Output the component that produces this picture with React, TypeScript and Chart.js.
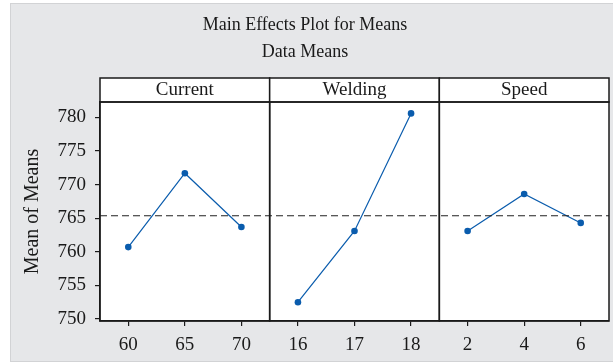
import React, { useEffect, useRef } from "react";
import { Chart, registerables } from "chart.js";

Chart.register(...registerables);

const titleLines = ["Main Effects Plot for Means", "Data Means"];
const yAxisLabel = "Mean of Means";
const factorNames = ["Current", "Welding", "Speed"];
const currentLevels = ["60", "65", "70"];
const weldingLevels = ["16", "17", "18"];
const speedLevels = ["2", "4", "6"];
const currentMeans = [760.7, 771.7, 763.7];
const weldingMeans = [752.5, 763.1, 780.6];
const speedMeans = [763.1, 768.6, 764.3];
const yTicks = [750, 755, 760, 765, 770, 775, 780];

const FONT = "'Liberation Serif', 'DejaVu Serif', serif";
const BLUE = "#0a5cad";

export default function App() {
  const ref = useRef<HTMLCanvasElement | null>(null);

  useEffect(() => {
    if (!ref.current) return;
    const labels = [...currentLevels, ...weldingLevels, ...speedLevels];
    const groups = [currentMeans, weldingMeans, speedMeans];
    const all = groups.flat();
    const grandMean = all.reduce((a, b) => a + b, 0) / all.length;
    const datasets = groups.map((g, gi) => {
      const data: (number | null)[] = labels.map(() => null);
      g.forEach((v, i) => (data[gi * 3 + i] = v));
      return {
        label: factorNames[gi],
        data,
        borderColor: BLUE,
        backgroundColor: BLUE,
        borderWidth: 1.2,
        pointRadius: 3.3,
        pointBorderWidth: 0,
        pointBackgroundColor: BLUE,
        spanGaps: false,
        tension: 0,
      };
    });

    const decor = {
      id: "decor",
      beforeDraw(chart: any) {
        const { ctx, chartArea } = chart;
        ctx.save();
        ctx.fillStyle = "#ffffff";
        ctx.fillRect(0, 0, chart.width, chart.height);
        ctx.fillStyle = "#e6e7e9";
        ctx.fillRect(10, 3, chart.width - 10, 359);
        ctx.strokeStyle = "#d2d3d5";
        ctx.lineWidth = 1;
        ctx.strokeRect(10.5, 3.5, chart.width, 358);
        ctx.fillStyle = "#ffffff";
        ctx.fillRect(chartArea.left, chartArea.top, chartArea.right - chartArea.left, chartArea.bottom - chartArea.top);
        ctx.restore();
      },
      afterDatasetsDraw(chart: any) {
        const { ctx, chartArea, scales } = chart;
        const x = scales.x;
        const y = scales.y;
        ctx.save();
        const ym = y.getPixelForValue(grandMean);
        ctx.strokeStyle = "#222222";
        ctx.lineWidth = 1.2;
        ctx.setLineDash([7, 4]);
        ctx.beginPath();
        ctx.moveTo(chartArea.left, ym);
        ctx.lineTo(chartArea.right, ym);
        ctx.stroke();
        ctx.setLineDash([]);
        const bounds = [chartArea.left];
        for (let g = 1; g < factorNames.length; g++) {
          bounds.push((x.getPixelForValue(g * 3 - 1) + x.getPixelForValue(g * 3)) / 2);
        }
        bounds.push(chartArea.right);
        const hTop = chartArea.top - 24;
        ctx.strokeStyle = "#1a1a1a";
        ctx.lineWidth = 1.5;
        for (let g = 0; g < factorNames.length; g++) {
          const l = bounds[g];
          const r = bounds[g + 1];
          ctx.fillStyle = "#ffffff";
          ctx.fillRect(l, hTop, r - l, 24);
          ctx.strokeRect(l, hTop, r - l, 24);
          ctx.strokeRect(l, chartArea.top, r - l, chartArea.bottom - chartArea.top);
          ctx.fillStyle = "#1a1a1a";
          ctx.font = `19px ${FONT}`;
          ctx.textAlign = "center";
          ctx.textBaseline = "middle";
          ctx.fillText(factorNames[g], (l + r) / 2, hTop + 12);
        }
        ctx.restore();
      },
    };

    const chart = new Chart(ref.current, {
      type: "line",
      data: { labels, datasets },
      plugins: [decor],
      options: {
        animation: false,
        responsive: false,
        maintainAspectRatio: false,
        layout: { padding: { left: 0, right: 3, top: 0, bottom: 0 } },
        plugins: {
          legend: { display: false },
          tooltip: { enabled: false },
          title: {
            display: true,
            text: titleLines,
            color: "#1a1a1a",
            font: { family: FONT, size: 18, weight: "normal", lineHeight: 1.5 },
            padding: { top: 12, bottom: 36 },
          },
        },
        scales: {
          x: {
            type: "category",
            offset: true,
            grid: { display: true, drawOnChartArea: false, offset: false, tickLength: 5, color: "#1a1a1a", lineWidth: 1.2 },
            border: { display: true, color: "#1a1a1a", width: 1.5 },
            ticks: { color: "#1a1a1a", font: { family: FONT, size: 19 }, padding: 8, maxRotation: 0, autoSkip: false },
            afterFit: (s: any) => { s.height = 43; },
          },
          y: {
            min: 749.7,
            max: 782.3,
            grid: { display: true, drawOnChartArea: false, tickLength: 5, color: "#1a1a1a", lineWidth: 1.2 },
            border: { display: true, color: "#1a1a1a", width: 1.5 },
            ticks: { color: "#1a1a1a", font: { family: FONT, size: 19 }, padding: 9 },
            afterBuildTicks: (s: any) => { s.ticks = yTicks.map((v) => ({ value: v })); },
            afterFit: (s: any) => { s.width = 100; },
            title: {
              display: true,
              text: yAxisLabel,
              color: "#1a1a1a",
              font: { family: FONT, size: 20 },
              padding: { top: 21, bottom: 0 },
            },
          },
        },
      },
    } as any);
    return () => chart.destroy();
  }, []);

  return (
    <div style={{ position: "fixed", left: 0, top: 0, width: 613, height: 364 }}>
      <canvas ref={ref} width={613} height={364} style={{ width: 613, height: 364, display: "block" }} />
    </div>
  );
}
